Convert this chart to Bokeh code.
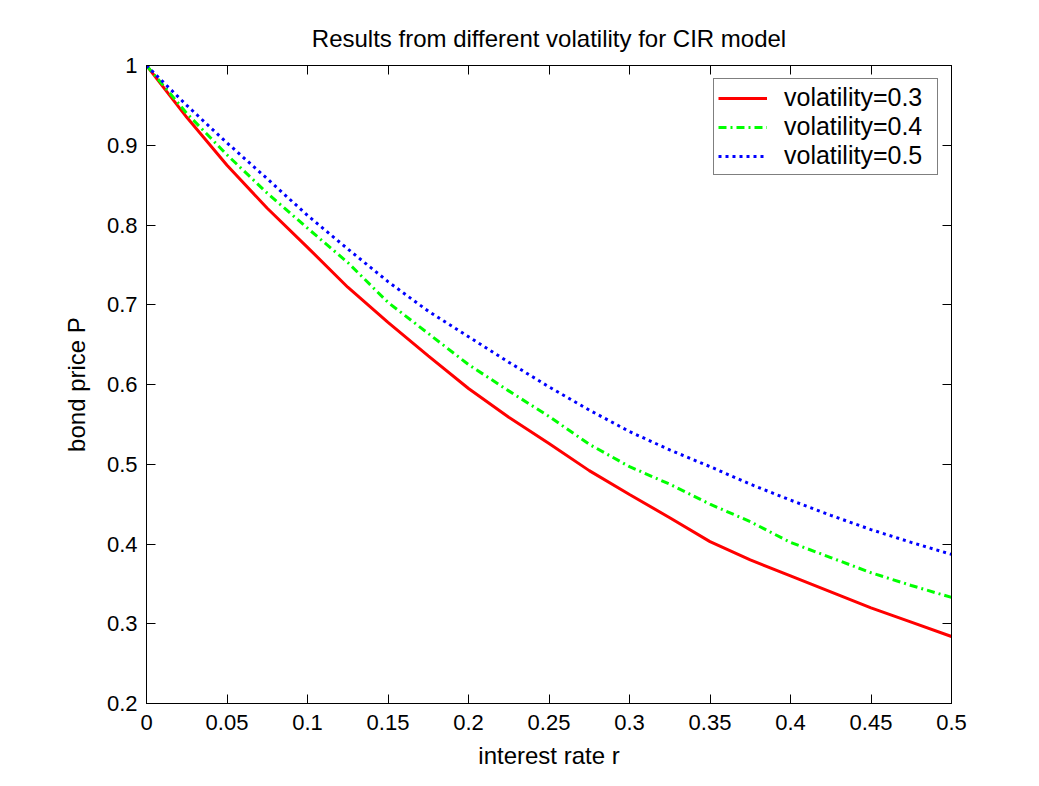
from bokeh.plotting import figure
from bokeh.models import LinearAxis, FixedTicker, Legend, LegendItem, Range1d
from bokeh.embed import file_html
from bokeh.resources import INLINE

# ---- data ----
rate = [0.0, 0.025, 0.05, 0.075, 0.1, 0.125, 0.15, 0.175, 0.2, 0.225, 0.25,
        0.275, 0.3, 0.325, 0.35, 0.375, 0.4, 0.425, 0.45, 0.475, 0.5]
price_vol03 = [1.000, 0.935, 0.875, 0.821, 0.772, 0.722, 0.678, 0.636, 0.595, 0.559, 0.526,
               0.492, 0.462, 0.433, 0.403, 0.380, 0.360, 0.340, 0.320, 0.302, 0.284]
price_vol04 = [1.000, 0.940, 0.888, 0.840, 0.796, 0.753, 0.703, 0.664, 0.625, 0.592, 0.560,
               0.525, 0.497, 0.475, 0.450, 0.428, 0.402, 0.383, 0.364, 0.348, 0.333]
price_vol05 = [1.000, 0.950, 0.903, 0.858, 0.812, 0.770, 0.729, 0.692, 0.660, 0.628, 0.597,
               0.568, 0.541, 0.518, 0.497, 0.475, 0.455, 0.436, 0.418, 0.402, 0.387]
series_names = ["volatility=0.3", "volatility=0.4", "volatility=0.5"]

x_ticks = [0, 0.05, 0.1, 0.15, 0.2, 0.25, 0.3, 0.35, 0.4, 0.45, 0.5]
x_tick_labels = ["0", "0.05", "0.1", "0.15", "0.2", "0.25", "0.3", "0.35", "0.4", "0.45", "0.5"]
y_ticks = [0.2, 0.3, 0.4, 0.5, 0.6, 0.7, 0.8, 0.9, 1.0]
y_tick_labels = ["0.2", "0.3", "0.4", "0.5", "0.6", "0.7", "0.8", "0.9", "1"]

FONT = "Liberation Sans"
TICK_SIZE = "22px"
LABEL_SIZE = "24px"

p = figure(width=1030, height=775, output_backend="svg", toolbar_location=None,
           x_range=Range1d(0, 0.5), y_range=Range1d(0.2, 1.0),
           min_border_left=146, min_border_right=79, min_border_top=65, min_border_bottom=72,
           background_fill_color="white", border_fill_color="white")

p.title.text = "Results from different volatility for CIR model"
p.title.align = "center"
p.title.text_font = FONT
p.title.text_font_size = "24px"
p.title.text_font_style = "normal"
p.title.text_color = "black"
p.title.standoff = 28

p.xgrid.visible = False
p.ygrid.visible = False
p.outline_line_color = "black"
p.outline_line_width = 1

def style_axis(ax, ticks, labels, show_labels=True):
    ax.ticker = FixedTicker(ticks=ticks)
    ax.major_tick_in = 9
    ax.major_tick_out = 0
    ax.minor_tick_line_color = None
    ax.axis_line_color = "black"
    ax.axis_line_width = 1
    ax.major_tick_line_color = "black"
    ax.major_tick_line_width = 1
    ax.major_label_text_font = FONT
    if show_labels:
        ax.major_label_overrides = {t: l for t, l in zip(ticks, labels)}
        ax.major_label_text_color = "black"
        ax.major_label_text_font_size = TICK_SIZE
    else:
        ax.major_label_text_color = None
        ax.major_label_text_font_size = "1px"
        ax.major_label_standoff = 0

xa = p.xaxis[0]
style_axis(xa, x_ticks, x_tick_labels)
xa.major_label_standoff = 11
xa.axis_label = "interest rate r"
xa.axis_label_text_font = FONT
xa.axis_label_text_font_size = LABEL_SIZE
xa.axis_label_text_font_style = "normal"
xa.axis_label_text_color = "black"
xa.axis_label_standoff = 9

ya = p.yaxis[0]
style_axis(ya, y_ticks, y_tick_labels)
ya.major_label_standoff = 9
ya.axis_label = "bond price P"
ya.axis_label_text_font = FONT
ya.axis_label_text_font_size = LABEL_SIZE
ya.axis_label_text_font_style = "normal"
ya.axis_label_text_color = "black"
ya.axis_label_standoff = 14

top_axis = LinearAxis()
style_axis(top_axis, x_ticks, x_tick_labels, show_labels=False)
p.add_layout(top_axis, "above")
right_axis = LinearAxis()
style_axis(right_axis, y_ticks, y_tick_labels, show_labels=False)
p.add_layout(right_axis, "right")

r1 = p.line(rate, price_vol03, line_color="#ff0000", line_width=3)
r2 = p.line(rate, price_vol04, line_color="#00ff00", line_width=3, line_dash="8 4 2 4")
r3 = p.line(rate, price_vol05, line_color="#0000ff", line_width=3, line_dash="3 4")

legend = Legend(items=[LegendItem(label=series_names[0], renderers=[r1]),
                       LegendItem(label=series_names[1], renderers=[r2]),
                       LegendItem(label=series_names[2], renderers=[r3])],
                location="top_right")
legend.label_text_font = FONT
legend.label_text_font_size = "25px"
legend.label_text_color = "black"
legend.border_line_color = "black"
legend.border_line_width = 1
legend.background_fill_color = "white"
legend.background_fill_alpha = 1
legend.glyph_width = 49
legend.glyph_height = 20
legend.label_height = 20
legend.label_width = 149
legend.label_standoff = 17
legend.spacing = 0
legend.padding = 4
legend.margin = 13
p.add_layout(legend)

open("out.html", "w").write(file_html(p, INLINE))
